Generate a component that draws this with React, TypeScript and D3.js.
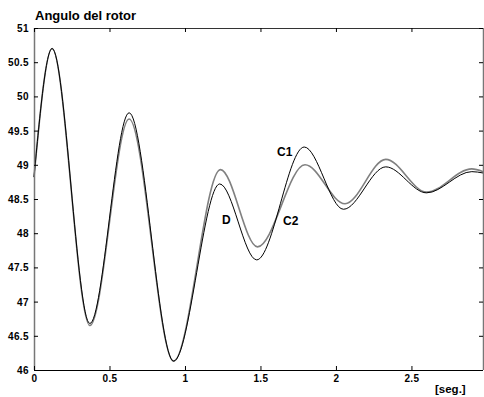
import React from "react";
import * as d3 from "d3";

const title = "Angulo del rotor";
const xTicks = [0, 0.5, 1, 1.5, 2, 2.5];
const xTickLabels = ["0", "0.5", "1", "1.5", "2", "2.5"];
const yTicks = [46, 46.5, 47, 47.5, 48, 48.5, 49, 49.5, 50, 50.5, 51];
const yTickLabels = ["46", "46.5", "47", "47.5", "48", "48.5", "49", "49.5", "50", "50.5", "51"];

const timeBlack = [0, 0.12, 0.37, 0.63, 0.925, 1.23, 1.475, 1.79, 2.05, 2.33, 2.6, 2.9, 2.975];
const seriesBlack = [48.82, 50.7, 46.68, 49.76, 46.13, 48.72, 47.61, 49.26, 48.35, 48.97, 48.59, 48.9, 48.88];
const timeGray = [0, 0.12, 0.37, 0.63, 0.925, 1.235, 1.48, 1.795, 2.06, 2.33, 2.6, 2.9, 2.975];
const seriesGray = [48.82, 50.7, 46.65, 49.67, 46.13, 48.93, 47.8, 49.0, 48.43, 49.08, 48.6, 48.94, 48.9];

const annotations = [
  { text: "C1", t: 1.61, v: 49.13 },
  { text: "D", t: 1.245, v: 48.13 },
  { text: "C2", t: 1.65, v: 48.12 },
];
const xUnit = "[seg.]";

export default function App() {
  const W = 484, H = 397;
  const L = 34, R = 483, T = 28, B = 370;
  const x = d3.scaleLinear().domain([0, 2.974]).range([L, R]);
  const y = d3.scaleLinear().domain([46, 51]).range([B, T]);
  const line = d3
    .line<[number, number]>()
    .x((d) => x(d[0]))
    .y((d) => y(d[1]))
    .curve(d3.curveMonotoneX);
  const black = timeBlack.map((t, i) => [t, seriesBlack[i]] as [number, number]);
  const gray = timeGray.map((t, i) => [t, seriesGray[i]] as [number, number]);
  const font = "'Liberation Sans', Arial, sans-serif";
  const tl = 4;
  return (
    <svg width={W} height={H} style={{ position: "absolute", left: 0, top: 0, background: "#fff" }} fontFamily={font}>
      <rect x={0} y={0} width={W} height={H} fill="#fff" />
      <text x={35} y={20} fontSize={13} fontWeight="bold" fill="#000">{title}</text>
      <path d={line(gray) || ""} fill="none" stroke="#808080" strokeWidth={1.6} />
      <path d={line(black) || ""} fill="none" stroke="#000" strokeWidth={1} />
      <line x1={L} x2={R} y1={T + 0.5} y2={T + 0.5} stroke="#333" />
      <line x1={L} x2={R} y1={B + 0.5} y2={B + 0.5} stroke="#000" strokeWidth={1.2} />
      <line x1={L + 0.5} x2={L + 0.5} y1={T} y2={B} stroke="#777" strokeWidth={1.5} />
      <line x1={R + 0.5} x2={R + 0.5} y1={T} y2={B} stroke="#777" strokeWidth={1.5} />
      {xTicks.map((t, i) => (
        <g key={"x" + i}>
          <line x1={x(t) + 0.5} x2={x(t) + 0.5} y1={B} y2={B - tl} stroke="#000" />
          <line x1={x(t) + 0.5} x2={x(t) + 0.5} y1={T} y2={T + tl} stroke="#000" />
          <text x={x(t) + 0.5} y={382} fontSize={10} fontWeight="bold" textAnchor="middle" letterSpacing={0.4}>
            {xTickLabels[i]}
          </text>
        </g>
      ))}
      {yTicks.map((v, i) => (
        <g key={"y" + i}>
          <line x1={L} x2={L + tl} y1={y(v) + 0.5} y2={y(v) + 0.5} stroke="#000" />
          <line x1={R} x2={R - tl} y1={y(v) + 0.5} y2={y(v) + 0.5} stroke="#000" />
          <text x={29} y={y(v) + 4} fontSize={10} fontWeight="bold" textAnchor="end" letterSpacing={0.4}>
            {yTickLabels[i]}
          </text>
        </g>
      ))}
      {annotations.map((a, i) => (
        <text key={"a" + i} x={x(a.t)} y={y(a.v)} fontSize={12} fontWeight="bold">
          {a.text}
        </text>
      ))}
      <text x={435} y={393} fontSize={11.5} fontWeight="bold">{xUnit}</text>
    </svg>
  );
}
